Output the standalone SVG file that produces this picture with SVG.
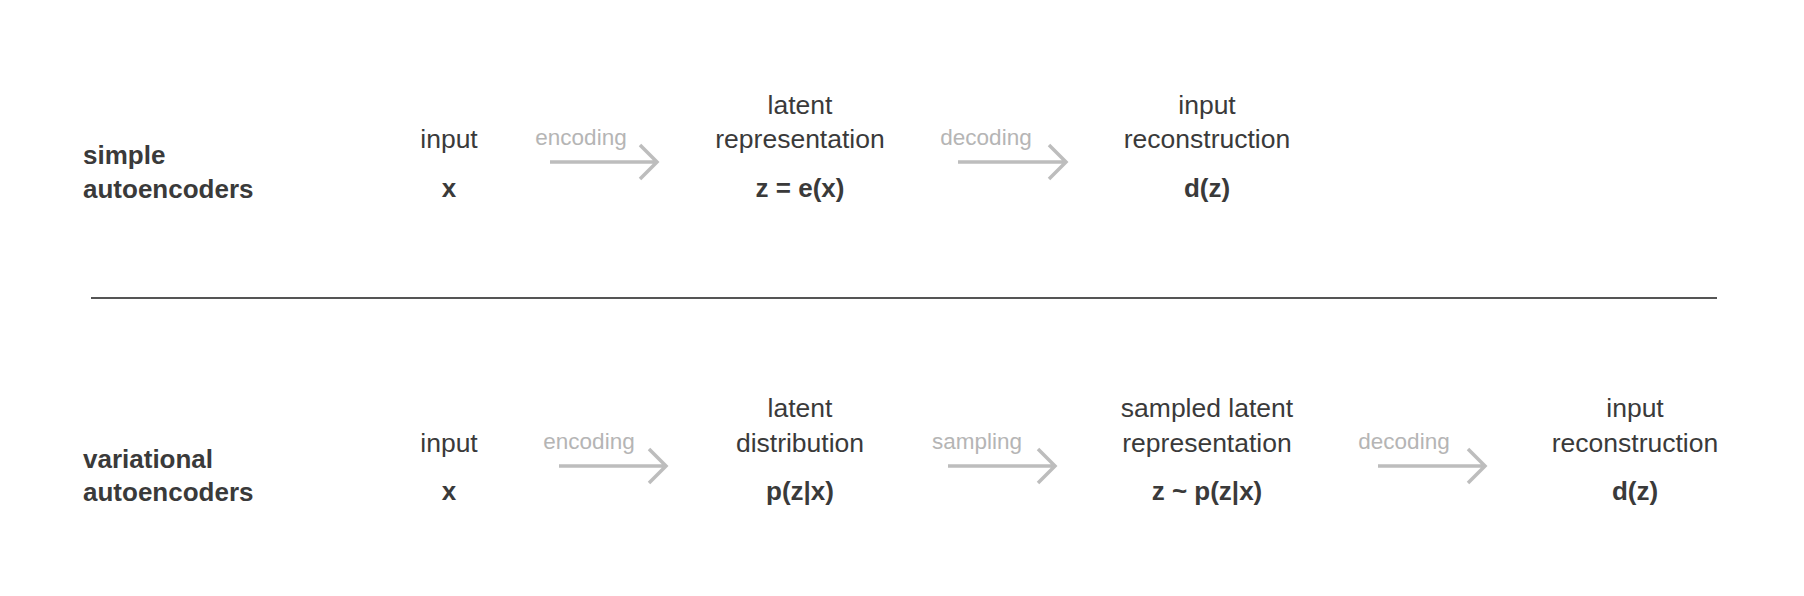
<svg xmlns="http://www.w3.org/2000/svg" width="1804" height="596" viewBox="0 0 1804 596">
<style>
text{font-family:"Liberation Sans",Arial,sans-serif;}
.t{font-size:26.5px;fill:#3a3a3a;text-anchor:middle;}
.b{font-size:26px;font-weight:bold;fill:#3a3a3a;text-anchor:middle;}
.h{font-size:26px;font-weight:bold;fill:#3a3a3a;}
.l{font-size:22.5px;fill:#b5b5b5;text-anchor:middle;}
.a{fill:none;stroke:#bdbdbd;stroke-width:3.5;}
</style>
<rect width="1804" height="596" fill="#ffffff"/>
<g id="row1-label"><text class="h" x="83" y="163.5">simple</text><text class="h" x="83" y="197.5">autoencoders</text></g>
<g id="row1-input"><text class="t" x="449" y="147.5">input</text><text class="b" x="449" y="196.5">x</text></g>
<g id="row1-latent"><text class="t" x="800" y="113.5">latent</text><text class="t" x="800" y="147.5">representation</text><text class="b" x="800" y="196.5">z = e(x)</text></g>
<g id="row1-recon"><text class="t" x="1207" y="113.5">input</text><text class="t" x="1207" y="147.5">reconstruction</text><text class="b" x="1207" y="196.5">d(z)</text></g>
<g id="divider"><line x1="91" y1="298" x2="1717" y2="298" stroke="#555555" stroke-width="2"/></g>
<g id="row2-label"><text class="h" x="83" y="467.5">variational</text><text class="h" x="83" y="500.5">autoencoders</text></g>
<g id="row2-input"><text class="t" x="449" y="451.5">input</text><text class="b" x="449" y="499.5">x</text></g>
<g id="row2-latent"><text class="t" x="800" y="416.5">latent</text><text class="t" x="800" y="451.5">distribution</text><text class="b" x="800" y="499.5">p(z|x)</text></g>
<g id="row2-sampled"><text class="t" x="1207" y="416.5">sampled latent</text><text class="t" x="1207" y="451.5">representation</text><text class="b" x="1207" y="499.5">z ~ p(z|x)</text></g>
<g id="row2-recon"><text class="t" x="1635" y="416.5">input</text><text class="t" x="1635" y="451.5">reconstruction</text><text class="b" x="1635" y="499.5">d(z)</text></g>
<g id="connectors">
<text class="l" x="581" y="145">encoding</text>
<path class="a" d="M550 162H657M640 145L657 162L640 179"/>
<text class="l" x="986" y="145">decoding</text>
<path class="a" d="M958 162H1066M1049 145L1066 162L1049 179"/>
<text class="l" x="589" y="449">encoding</text>
<path class="a" d="M559 466H666M649 449L666 466L649 483"/>
<text class="l" x="977" y="449">sampling</text>
<path class="a" d="M948 466H1055M1038 449L1055 466L1038 483"/>
<text class="l" x="1404" y="449">decoding</text>
<path class="a" d="M1378 466H1485M1468 449L1485 466L1468 483"/>
</g>
</svg>
